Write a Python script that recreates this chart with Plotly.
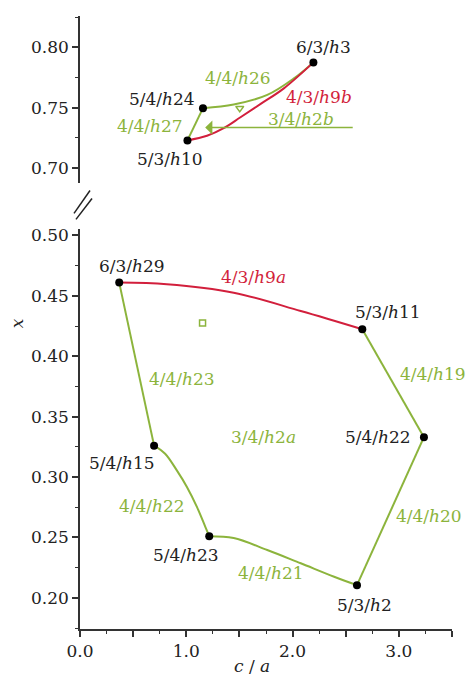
import plotly.graph_objects as go

# ---- phase boundary data (x = c/a, y = composition x) ----
# lower region: outline of the 3/4/h2a field
h9a_ca = [0.369, 0.817, 1.446, 2.077, 2.656]
h9a_x = [0.461, 0.4596, 0.4526, 0.4375, 0.4224]

h23_ca = [0.369, 0.697]
h23_x = [0.461, 0.326]

h22_ca = [0.697, 0.801, 0.911, 1.006, 1.100, 1.179, 1.216]
h22_x = [0.326, 0.3193, 0.3055, 0.2918, 0.2753, 0.2588, 0.251]

h21_ca = [1.216, 1.446, 1.762, 2.077, 2.391, 2.606]
h21_x = [0.251, 0.2495, 0.2396, 0.2286, 0.2175, 0.2105]

h20_ca = [2.606, 3.236]
h20_x = [0.2105, 0.333]

h19_ca = [3.236, 2.656]
h19_x = [0.333, 0.4224]

# upper region
h26_ca = [1.157, 1.446, 1.762, 2.013, 2.196]
h26_x = [0.7497, 0.7527, 0.7607, 0.7744, 0.7876]

h9b_ca = [2.196, 1.918, 1.70, 1.51, 1.352, 1.195, 1.011]
h9b_x = [0.7876, 0.7661, 0.7532, 0.7422, 0.7331, 0.7268, 0.723]

h27_ca = [1.011, 1.157]
h27_x = [0.723, 0.7497]

h2b_tail = (2.58, 0.7336)
h2b_head = (1.178, 0.7336)

# junction points
low_pts_ca = [0.369, 2.656, 3.236, 0.697, 1.216, 2.606]
low_pts_x = [0.461, 0.4224, 0.333, 0.326, 0.251, 0.2105]
up_pts_ca = [2.196, 1.157, 1.011]
up_pts_x = [0.7876, 0.7497, 0.723]

square_pt = (1.153, 0.4276)
triangle_pt = (1.503, 0.7497)

# text labels: (text, c/a, x, colour key)
low_labels = [
    ("6/3/<i>h</i>29", 0.489, 0.4747, "k"),
    ("4/3/<i>h</i>9<i>a</i>", 1.632, 0.4656, "r"),
    ("5/3/<i>h</i>11", 2.90, 0.4367, "k"),
    ("4/4/<i>h</i>23", 0.961, 0.3814, "g"),
    ("4/4/<i>h</i>19", 3.324, 0.3856, "g"),
    ("3/4/<i>h</i>2<i>a</i>", 1.725, 0.3328, "g"),
    ("5/4/<i>h</i>22", 2.805, 0.3328, "k"),
    ("5/4/<i>h</i>15", 0.395, 0.3113, "k"),
    ("4/4/<i>h</i>22", 0.678, 0.2758, "g"),
    ("4/4/<i>h</i>20", 3.286, 0.2676, "g"),
    ("5/4/<i>h</i>23", 1.00, 0.2355, "k"),
    ("4/4/<i>h</i>21", 1.793, 0.2206, "g"),
    ("5/3/<i>h</i>2", 2.672, 0.1942, "k"),
]
up_labels = [
    ("6/3/<i>h</i>3", 2.29, 0.8006, "k"),
    ("4/4/<i>h</i>26", 1.49, 0.775, "g"),
    ("5/4/<i>h</i>24", 0.77, 0.757, "k"),
    ("4/3/<i>h</i>9<i>b</i>", 2.245, 0.7593, "r"),
    ("3/4/<i>h</i>2<i>b</i>", 2.08, 0.741, "g"),
    ("4/4/<i>h</i>27", 0.66, 0.7353, "g"),
    ("5/3/<i>h</i>10", 0.85, 0.7072, "k"),
]

x_tickvals = [0, 0.5, 1.0, 1.5, 2.0, 2.5, 3.0, 3.5]
x_ticktext = ["0.0", "", "1.0", "", "2.0", "", "3.0", ""]
low_yticks = [0.20, 0.25, 0.30, 0.35, 0.40, 0.45, 0.50]
up_yticks = [0.70, 0.75, 0.80]

GREEN = "#8cb43c"
RED = "#d21f3c"
INK = "#222222"
COLORS = {"k": INK, "g": GREEN, "r": RED}
FONT = "DejaVu Serif"
FS = 17

fig = go.Figure()


def curve(ca, xv, color, yaxis, shape="spline", smoothing=1.0):
    fig.add_trace(go.Scatter(x=ca, y=xv, mode="lines", yaxis=yaxis,
                             line=dict(color=color, width=2, shape=shape,
                                       smoothing=smoothing),
                             showlegend=False, hoverinfo="skip"))


curve(h9a_ca, h9a_x, RED, "y")
curve(h23_ca, h23_x, GREEN, "y", "linear")
curve(h22_ca, h22_x, GREEN, "y")
curve(h21_ca, h21_x, GREEN, "y")
curve(h20_ca, h20_x, GREEN, "y", "linear")
curve(h19_ca, h19_x, GREEN, "y", "linear")

curve(h26_ca, h26_x, GREEN, "y2")
curve(h9b_ca, h9b_x, RED, "y2")
curve(h27_ca, h27_x, GREEN, "y2", "linear")

# markers
fig.add_trace(go.Scatter(x=low_pts_ca, y=low_pts_x, mode="markers", yaxis="y",
                         marker=dict(color="black", size=8),
                         showlegend=False, hoverinfo="skip"))
fig.add_trace(go.Scatter(x=up_pts_ca, y=up_pts_x, mode="markers", yaxis="y2",
                         marker=dict(color="black", size=8),
                         showlegend=False, hoverinfo="skip"))
fig.add_trace(go.Scatter(x=[square_pt[0]], y=[square_pt[1]], mode="markers",
                         yaxis="y",
                         marker=dict(symbol="square-open", color=GREEN, size=6,
                                     line=dict(width=1.5)),
                         showlegend=False, hoverinfo="skip"))
fig.add_trace(go.Scatter(x=[triangle_pt[0]], y=[triangle_pt[1]], mode="markers",
                         yaxis="y2",
                         marker=dict(symbol="triangle-down-open", color=GREEN,
                                     size=7, line=dict(width=1.5)),
                         showlegend=False, hoverinfo="skip"))

annotations = []
for text, ca, xv, c in low_labels:
    annotations.append(dict(x=ca, y=xv, xref="x", yref="y", text=text,
                            showarrow=False,
                            font=dict(family=FONT, size=FS, color=COLORS[c])))
for text, ca, xv, c in up_labels:
    annotations.append(dict(x=ca, y=xv, xref="x", yref="y2", text=text,
                            showarrow=False,
                            font=dict(family=FONT, size=FS, color=COLORS[c])))

# 3/4/h2b arrow
annotations.append(dict(x=h2b_head[0], y=h2b_head[1], xref="x", yref="y2",
                        ax=h2b_tail[0], ay=h2b_tail[1], axref="x", ayref="y2",
                        text="", showarrow=True, arrowhead=1, arrowsize=1.6,
                        arrowwidth=1.5, arrowcolor=GREEN, standoff=0))

# axis titles
annotations.append(dict(x=0.462, y=-0.061, xref="paper", yref="paper",
                        xanchor="center", yanchor="middle",
                        text="<i>c</i> / <i>a</i>", showarrow=False,
                        font=dict(family=FONT, size=FS, color=INK)))
annotations.append(dict(x=-0.169, y=0.499, xref="paper", yref="paper",
                        xanchor="center", yanchor="middle",
                        text="<i>x</i>", showarrow=False, textangle=-90,
                        font=dict(family=FONT, size=FS, color=INK)))

# axis break marks
shapes = [
    dict(type="line", xref="paper", yref="paper", x0=-0.0161, y0=0.678,
         x1=0.0269, y1=0.7154, line=dict(color=INK, width=1.5)),
    dict(type="line", xref="paper", yref="paper", x0=-0.0108, y0=0.6683,
         x1=0.0323, y1=0.7024, line=dict(color=INK, width=1.5)),
]

axis_common = dict(showgrid=False, zeroline=False, showline=True,
                   linecolor="#333333", linewidth=1.5, ticks="outside",
                   tickcolor="#333333", tickwidth=1.5, ticklen=6,
                   tickfont=dict(family=FONT, size=FS, color=INK))

fig.update_layout(
    width=467, height=679,
    margin=dict(l=80, r=15, t=14, b=50),
    paper_bgcolor="white", plot_bgcolor="white",
    font=dict(family=FONT),
    xaxis=dict(range=[0, 3.5], tickvals=x_tickvals, ticktext=x_ticktext,
               minor=dict(dtick=0.25, tick0=0, ticks="outside", ticklen=3,
                          tickcolor="#333333", tickwidth=1.2),
               anchor="y", **axis_common),
    yaxis=dict(domain=[0, 0.652], range=[0.1742, 0.5051], tickvals=low_yticks,
               tickformat=".2f",
               minor=dict(dtick=0.025, tick0=0, ticks="outside", ticklen=3,
                          tickcolor="#333333", tickwidth=1.2),
               anchor="x", **axis_common),
    yaxis2=dict(domain=[0.7273, 1], range=[0.6876, 0.826], tickvals=up_yticks,
                tickformat=".2f",
                minor=dict(dtick=0.025, tick0=0, ticks="outside", ticklen=3,
                           tickcolor="#333333", tickwidth=1.2),
                anchor="x", **axis_common),
    annotations=annotations,
    shapes=shapes,
)

fig.write_html("out.html")
